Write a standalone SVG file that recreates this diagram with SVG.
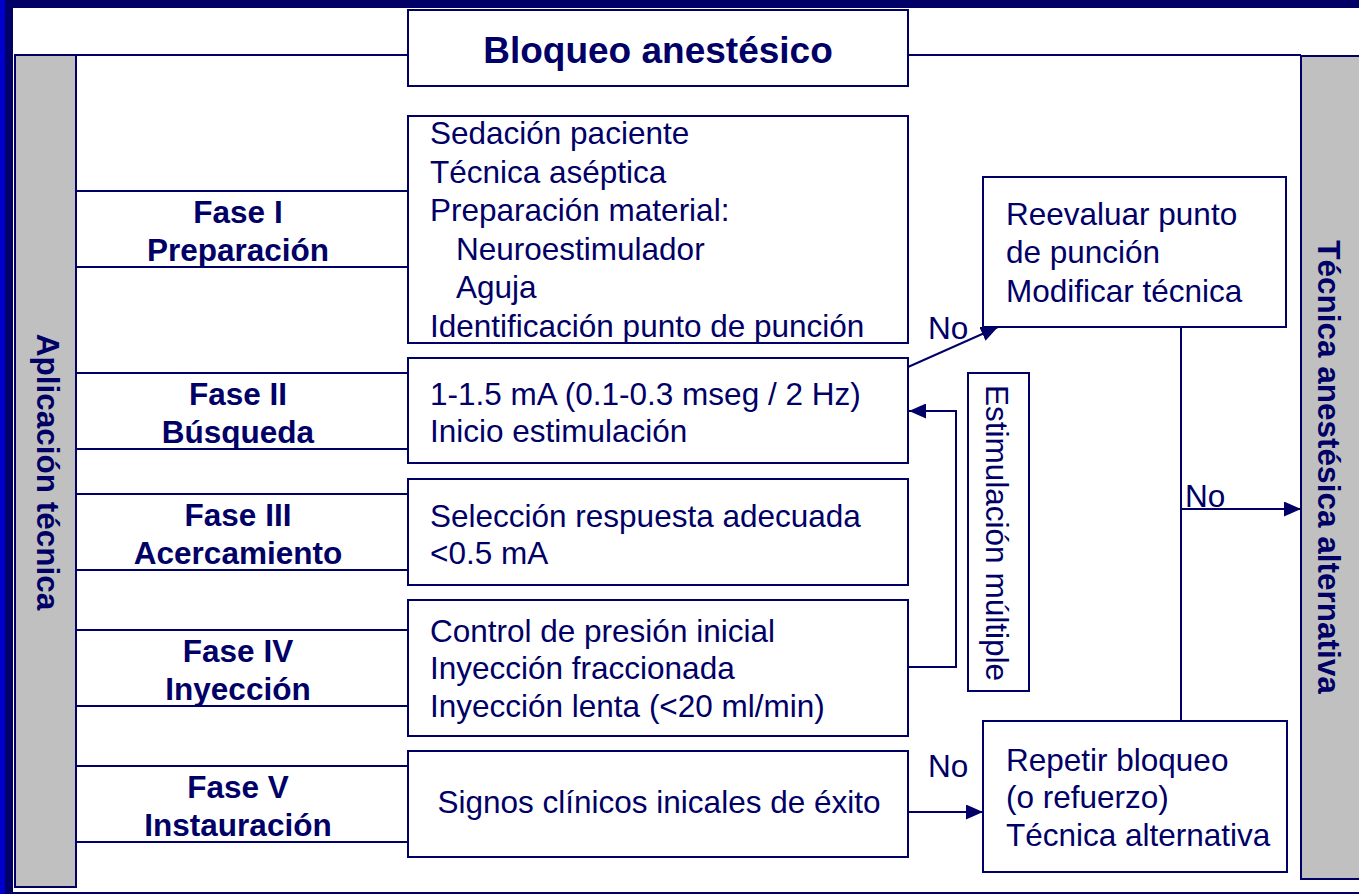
<svg xmlns="http://www.w3.org/2000/svg" width="1359" height="894" viewBox="0 0 1359 894">
<style>
.ln{stroke:#000066;stroke-width:2;fill:none}
.bx{stroke:#000066;stroke-width:2;fill:#ffffff}
.gb{stroke:#000066;stroke-width:2;fill:#c0c0c0}
.t{font-family:"Liberation Sans",Arial,sans-serif;font-size:31.5px;fill:#000066}
.b{font-weight:bold}
.m{text-anchor:middle}
</style>
<defs>
<marker id="ah" markerUnits="userSpaceOnUse" markerWidth="17" markerHeight="15" refX="17" refY="7.5" orient="auto">
<path d="M0,0 L17,7.5 L0,15 z" fill="#000066"/>
</marker>
</defs>
<rect x="0" y="0" width="1359" height="894" fill="#ffffff"/>
<g id="frame">
<rect x="0" y="0" width="1359" height="8" fill="#000066"/>
<rect x="0" y="0" width="5" height="894" fill="#0000cc"/>
<rect x="5" y="8" width="8" height="886" fill="#000066"/>
<rect x="13" y="892" width="1346" height="2" fill="#000066"/>
</g>
<g id="connectors">
<line class="ln" x1="76" y1="55" x2="1301" y2="55"/>
<line class="ln" x1="76" y1="191" x2="408" y2="191"/>
<line class="ln" x1="76" y1="267" x2="408" y2="267"/>
<line class="ln" x1="76" y1="373" x2="408" y2="373"/>
<line class="ln" x1="76" y1="449" x2="408" y2="449"/>
<line class="ln" x1="76" y1="494" x2="408" y2="494"/>
<line class="ln" x1="76" y1="570" x2="408" y2="570"/>
<line class="ln" x1="76" y1="630" x2="408" y2="630"/>
<line class="ln" x1="76" y1="706" x2="408" y2="706"/>
<line class="ln" x1="76" y1="766" x2="408" y2="766"/>
<line class="ln" x1="76" y1="842" x2="408" y2="842"/>
<line class="ln" x1="908" y1="367" x2="998" y2="327" marker-end="url(#ah)"/>
<polyline class="ln" points="908,667 956,667 956,411 909,411" marker-end="url(#ah)"/>
<line class="ln" x1="1181" y1="327" x2="1181" y2="721"/>
<line class="ln" x1="1181" y1="509" x2="1301" y2="509" marker-end="url(#ah)"/>
<line class="ln" x1="908" y1="812" x2="983" y2="812" marker-end="url(#ah)"/>
<text class="t" x="928" y="339">No</text>
<text class="t" x="1185" y="507">No</text>
<text class="t" x="928" y="777">No</text>
</g>
<g id="left-label">
<rect class="gb" x="15" y="55" width="61" height="832"/>
<text class="t b m" transform="translate(37,472) rotate(90)">Aplicación técnica</text>
</g>
<g id="right-label">
<rect class="gb" x="1301" y="56" width="70" height="823"/>
<text class="t b m" transform="translate(1318,467) rotate(90)">Técnica anestésica alternativa</text>
</g>
<g id="title">
<rect class="bx" x="408" y="10" width="500" height="76"/>
<text class="t b m" x="658" y="63" style="font-size:37px">Bloqueo anestésico</text>
</g>
<g id="fase1">
<text class="t b m" x="238" y="223">Fase I</text>
<text class="t b m" x="238" y="261">Preparación</text>
</g>
<g id="fase2">
<text class="t b m" x="238" y="405">Fase II</text>
<text class="t b m" x="238" y="443">Búsqueda</text>
</g>
<g id="fase3">
<text class="t b m" x="238" y="526">Fase III</text>
<text class="t b m" x="238" y="564">Acercamiento</text>
</g>
<g id="fase4">
<text class="t b m" x="238" y="662">Fase IV</text>
<text class="t b m" x="238" y="700">Inyección</text>
</g>
<g id="fase5">
<text class="t b m" x="238" y="798">Fase V</text>
<text class="t b m" x="238" y="836">Instauración</text>
</g>
<g id="box1">
<rect class="bx" x="408" y="116" width="500" height="227"/>
<text class="t" x="430" y="144">Sedación paciente</text>
<text class="t" x="430" y="183">Técnica aséptica</text>
<text class="t" x="430" y="221">Preparación material:</text>
<text class="t" x="456" y="260">Neuroestimulador</text>
<text class="t" x="456" y="298">Aguja</text>
<text class="t" x="430" y="337">Identificación punto de punción</text>
</g>
<g id="box2">
<rect class="bx" x="408" y="358" width="500" height="105"/>
<text class="t" x="430" y="405">1-1.5 mA (0.1-0.3 mseg / 2 Hz)</text>
<text class="t" x="430" y="442">Inicio estimulación</text>
</g>
<g id="box3">
<rect class="bx" x="408" y="479" width="500" height="106"/>
<text class="t" x="430" y="527">Selección respuesta adecuada</text>
<text class="t" x="430" y="564">&lt;0.5 mA</text>
</g>
<g id="box4">
<rect class="bx" x="408" y="600" width="500" height="136"/>
<text class="t" x="430" y="642">Control de presión inicial</text>
<text class="t" x="430" y="679">Inyección fraccionada</text>
<text class="t" x="430" y="717">Inyección lenta (&lt;20 ml/min)</text>
</g>
<g id="box5">
<rect class="bx" x="408" y="751" width="500" height="106"/>
<text class="t m" x="659" y="813">Signos clínicos inicales de éxito</text>
</g>
<g id="stim">
<rect class="bx" x="968" y="373" width="61" height="318"/>
<text class="t m" transform="translate(986,533) rotate(90)">Estimulación múltiple</text>
</g>
<g id="reevaluar">
<rect class="bx" x="983" y="177" width="303" height="150"/>
<text class="t" x="1006" y="225">Reevaluar punto</text>
<text class="t" x="1006" y="263">de punción</text>
<text class="t" x="1006" y="302">Modificar técnica</text>
</g>
<g id="repetir">
<rect class="bx" x="983" y="721" width="304" height="151"/>
<text class="t" x="1006" y="771">Repetir bloqueo</text>
<text class="t" x="1006" y="808">(o refuerzo)</text>
<text class="t" x="1006" y="846">Técnica alternativa</text>
</g>
</svg>
